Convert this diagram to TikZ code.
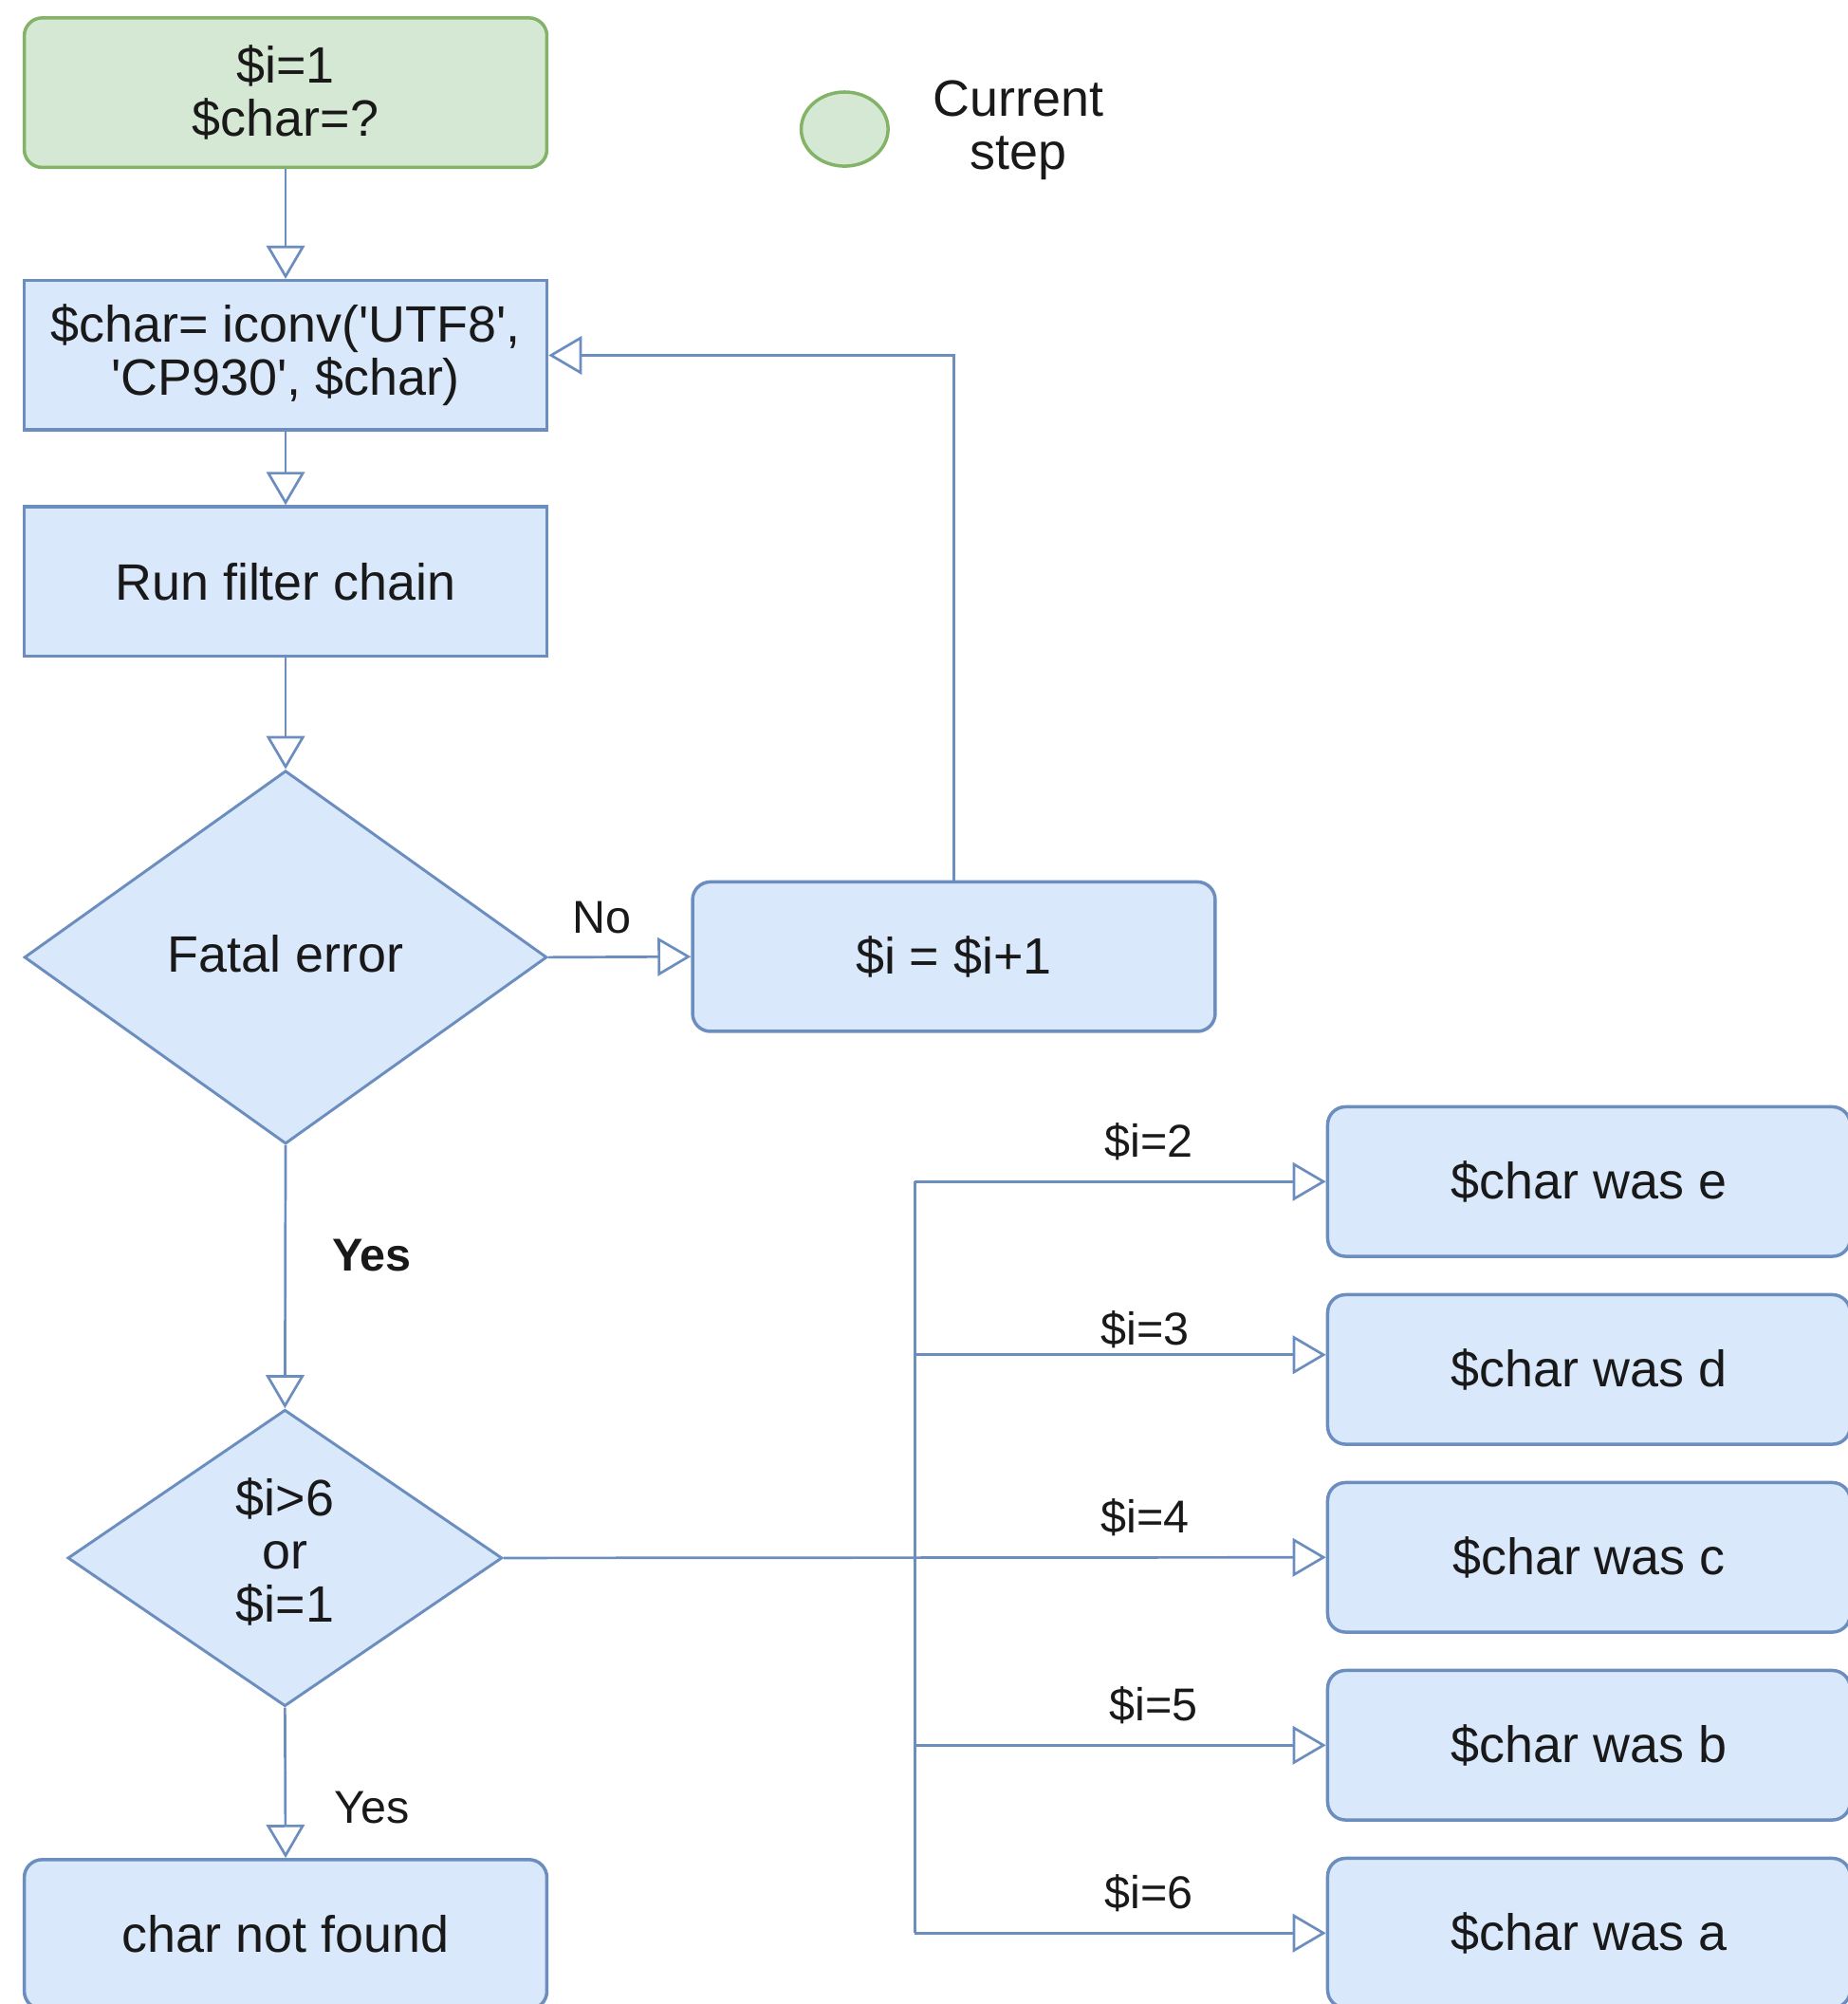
\documentclass[tikz,border=0pt]{standalone}
\usepackage{fontspec}
\setmainfont{Liberation Sans}[Ligatures=TeXOff]
\usetikzlibrary{shapes.geometric,arrows.meta}
\definecolor{bfill}{HTML}{DAE8FC}
\definecolor{bline}{HTML}{6C8EBF}
\definecolor{gfill}{HTML}{D5E8D4}
\definecolor{gline}{HTML}{82B366}
\begin{document}
\begin{tikzpicture}[x=0.5pt,y=-0.5pt,
  txt/.style={font=\fontsize{20}{20.7}\selectfont, text=black!90, align=center},
  box/.style={txt, draw=bline, fill=bfill, line width=1.3pt, minimum width=204.5pt, minimum height=58.5pt, inner sep=0},
  rbox/.style={box, rounded corners=7pt},
  dec/.style={txt, diamond, draw=bline, fill=bfill, line width=1.1pt, inner sep=0},
  wire/.style={draw=bline, line width=1pt},
  conn/.style={wire, -{Triangle[fill=white, length=13pt, width=15pt, line width=1pt]}},
  lbl/.style={font=\fontsize{18}{20}\selectfont, text=black!90}
]
\useasboundingbox (0,0) rectangle (1446,1568);

% nodes
\node[rbox, draw=gline, fill=gfill] (start) at (223.5,72.5) {\$i=1\\\$char=?};
\node[ellipse, draw=gline, fill=gfill, line width=1.3pt, minimum width=34pt, minimum height=29pt, inner sep=0] (leg) at (661,101) {};
\node[txt] (legt) at (797,102) {Current\\step};
\node[box] (conv) at (223.5,278) {\$char= iconv('UTF8',\\'CP930', \$char)};
\node[box] (run) at (223.5,455) {Run filter chain};
\node[dec, minimum width=204.5pt, minimum height=146pt] (fatal) at (223.5,749) {\raisebox{3pt}{Fatal error}};
\node[rbox] (inc) at (746.5,748.5) {\$i = \$i+1};
\node[dec, minimum width=170pt, minimum height=116pt] (cond) at (223,1219) {\raisebox{2.5pt}{\begin{tabular}{@{}c@{}}\$i>6\\or\\\$i=1\end{tabular}}};
\node[rbox] (nf) at (223.5,1513.5) {char not found};

\node[rbox] (be) at (1243.5,924.5) {\$char was e};
\node[rbox] (bd) at (1243.5,1071.5) {\$char was d};
\node[rbox] (bc) at (1243.5,1218.5) {\$char was c};
\node[rbox] (bb) at (1243.5,1365.5) {\$char was b};
\node[rbox] (ba) at (1243.5,1512.5) {\$char was a};

% labels
\node[lbl] (lno) at (471,718) {No};
\node[lbl, font=\fontsize{18}{20}\selectfont\bfseries] (lyes1) at (291,982) {Yes};
\node[lbl] (lyes2) at (291,1414) {Yes};
\node[lbl] (l2) at (899,893) {\$i=2};
\node[lbl] (l3) at (896,1040) {\$i=3};
\node[lbl] (l4) at (896,1187) {\$i=4};
\node[lbl] (l5) at (903,1334) {\$i=5};
\node[lbl] (l6) at (899,1481) {\$i=6};

% connectors
\draw[conn] (start.south) -- (conv.north);
\draw[conn] (conv.south) -- (run.north);
\draw[conn] (run.south) -- (fatal.north);
\draw[conn] (fatal.east) -- (inc.west);
\draw[conn] (inc.north) |- (conv.east);
\draw[conn] (fatal.south) -- (cond.north);
\draw[conn] (cond.south) -- (nf.north);
\draw[conn] (cond.east) -- (bc.west);

\coordinate (trT) at (716,924.5);
\coordinate (trB) at (716,1512.5);
\coordinate (j3) at (716,1060);
\draw[wire] (trT) -- (trB);
\draw[conn] (trT) -- (be.west);
\draw[conn] (j3) -- (j3 -| bd.west);
\draw[conn] (trT |- bb.west) -- (bb.west);
\draw[conn] (trB) -- (ba.west);
\end{tikzpicture}
\end{document}
